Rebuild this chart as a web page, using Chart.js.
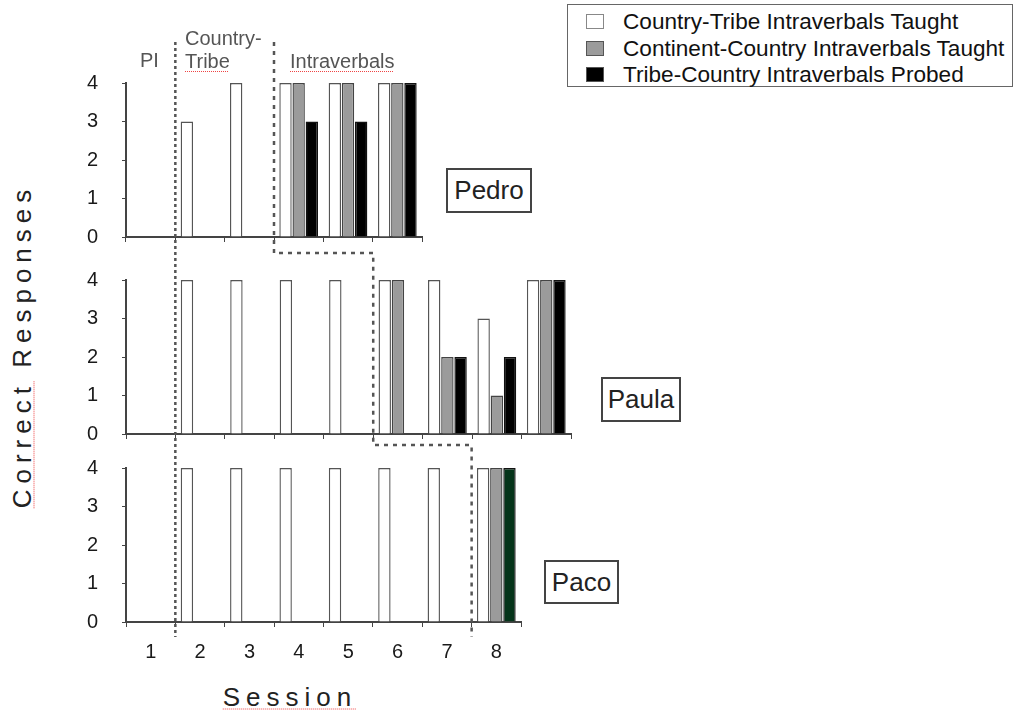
<!DOCTYPE html>
<html>
<head>
<meta charset="utf-8">
<script src="https://cdn.jsdelivr.net/npm/chart.js@4.4.0/dist/chart.umd.min.js"></script>
<style>
  body { margin: 0; background: #fff; width: 1015px; height: 716px; position: relative; overflow: hidden;
         font-family: "Liberation Sans", Arial, Helvetica, sans-serif; }
  canvas.panel { position: absolute; }
  #overlay { position: absolute; left: 0; top: 0; pointer-events: none; z-index: 5; }
  .lbl { position: absolute; white-space: nowrap; line-height: 20px; font-size: 20px; color: #555; }
  .spell { text-decoration: underline dotted #e44; text-decoration-thickness: 1px; text-underline-offset: 3px; }
  .name { position: absolute; border: 2px solid #444; box-sizing: border-box; font-size: 26px; color: #222;
          display: flex; align-items: center; justify-content: center; background: #fff; z-index: 6; }
  #legend { position: absolute; left: 567px; top: 4px; width: 446px; height: 83px; border: 1px solid #666;
            box-sizing: border-box; background: #fff; }
  .legrow { position: absolute; left: 0; height: 26px; font-size: 22.6px; color: #111; white-space: nowrap; }
  .legrow span.sw { position: absolute; left: 18px; top: 5px; width: 18px; height: 15px; box-sizing: border-box; border: 1px solid #666; }
  .legrow span.tx { position: absolute; left: 55px; top: 0; line-height: 26px; }
  #ytitle { position: absolute; left: 22px; top: 346px; transform: translate(-50%, -50%) rotate(-90deg);
            font-size: 26px; letter-spacing: 6px; color: #222; white-space: nowrap; }
  #xtitle { position: absolute; left: 290px; top: 697px; transform: translate(-50%, -50%);
            font-size: 26px; letter-spacing: 6px; color: #222; white-space: nowrap; }
</style>
</head>
<body>
<canvas id="pedro" class="panel"></canvas>
<canvas id="paula" class="panel"></canvas>
<canvas id="paco" class="panel"></canvas>
<canvas id="overlay" width="1015" height="716"></canvas>

<div class="lbl" style="left:140px; top:50px;">PI</div>
<div class="lbl" style="left:185px; top:28px;">Country-</div>
<div class="lbl" style="left:185px; top:51px;"><span class="spell">Tribe</span></div>
<div class="lbl" style="left:290px; top:51px;"><span class="spell">Intraverbals</span></div>

<div class="name" style="left:446px; top:168px; width:86px; height:45px;">Pedro</div>
<div class="name" style="left:601px; top:377px; width:80px; height:45px;">Paula</div>
<div class="name" style="left:544px; top:560px; width:75px; height:44px;">Paco</div>

<div id="legend"></div>
<div id="ytitle"><span class="spell">Correct</span> Responses</div>
<div id="xtitle"><span class="spell">Session</span></div>

<script>
// sessions
const sessions = ['1', '2', '3', '4', '5', '6', '7', '8', '9'];
const seriesNames = [
    'Country-Tribe Intraverbals Taught',
    'Continent-Country Intraverbals Taught',
    'Tribe-Country Intraverbals Probed'
];
const yTicks = [0, 1, 2, 3, 4];

// Pedro (sessions 1-6)
const pedroCT = [null, 3, 4, 4, 4, 4];
const pedroCC = [null, null, null, 4, 4, 4];
const pedroTC = [null, null, null, 3, 3, 4];

// Paula (sessions 1-9)
const paulaCT = [null, 4, 4, 4, 4, 4, 4, 3, 4];
const paulaCC = [null, null, null, null, null, 4, 2, 1, 4];
const paulaTC = [null, null, null, null, null, null, 2, 2, 4];

// Paco (sessions 1-8)
const pacoCT = [null, 4, 4, 4, 4, 4, 4, 4];
const pacoCC = [null, null, null, null, null, null, null, 4];
const pacoTC = [null, null, null, null, null, null, null, 4];

// last session before intraverbal phase, per panel
const phaseEnd = [3, 5, 7];

const fills = ['#ffffff', '#9b9b9b', '#000000'];
const borders = ['#555555', '#444444', '#111111'];
const pacoProbeFill = '#05341a';

const CAT_W = 49.4;
const AREA_H = 153.5;
const MARGIN = 36;   // y tick label half height + tick padding
const AXIS = '#444';

function makePanel(id, areaTop, n, values, showX, thirdColors) {
    const xH = showX ? 44 : 6;
    const bottom = showX ? xH : MARGIN;
    const canvas = document.getElementById(id);
    const w = Math.round(60 + n * CAT_W + 6);
    const h = Math.round(MARGIN + AREA_H + bottom);
    canvas.width = w;
    canvas.height = h;
    canvas.style.width = w + 'px';
    canvas.style.height = h + 'px';
    canvas.style.left = '66px';
    canvas.style.top = (areaTop - MARGIN) + 'px';

    const datasets = values.map((vals, i) => ({
        label: seriesNames[i],
        data: vals,
        backgroundColor: (i === 2 && thirdColors) ? thirdColors : fills[i],
        borderColor: borders[i],
        borderWidth: 1.4,
        categoryPercentage: 0.8,
        barPercentage: 0.94
    }));

    return new Chart(canvas.getContext('2d'), {
        type: 'bar',
        data: { labels: sessions.slice(0, n), datasets: datasets },
        options: {
            responsive: false,
            maintainAspectRatio: false,
            animation: false,
            layout: { padding: { top: MARGIN, right: 6, left: 0, bottom: bottom - xH } },
            plugins: { legend: { display: false }, tooltip: { enabled: false } },
            scales: {
                x: {
                    afterFit: s => { s.height = xH; },
                    grid: { drawOnChartArea: false, drawTicks: true, tickLength: 5, color: AXIS, offset: true },
                    border: { color: AXIS, width: 2 },
                    ticks: {
                        display: showX,
                        color: '#1a1a1a',
                        font: { family: 'Liberation Sans', size: 20 },
                        padding: 13
                    }
                },
                y: {
                    min: 0,
                    max: 4,
                    afterFit: s => { s.width = 60; },
                    afterBuildTicks: s => { s.ticks = yTicks.map(v => ({ value: v })); },
                    grid: { drawOnChartArea: false, drawTicks: true, tickLength: 4, color: AXIS },
                    border: { color: AXIS, width: 2 },
                    ticks: {
                        color: '#1a1a1a',
                        font: { family: 'Liberation Sans', size: 20 },
                        padding: 24
                    }
                }
            }
        }
    });
}

const pacoThird = pacoTC.map(() => pacoProbeFill);

const charts = [
    makePanel('pedro', 83, pedroCT.length, [pedroCT, pedroCC, pedroTC], false),
    makePanel('paula', 280, paulaCT.length, [paulaCT, paulaCC, paulaTC], false),
    makePanel('paco', 468, pacoCT.length, [pacoCT, pacoCC, pacoTC], true, pacoThird)
];

// legend
const legend = document.getElementById('legend');
seriesNames.forEach((name, i) => {
    const row = document.createElement('div');
    row.className = 'legrow';
    row.style.top = (4 + i * 26.5) + 'px';
    const sw = document.createElement('span');
    sw.className = 'sw';
    sw.style.background = fills[i];
    sw.style.borderColor = i === 0 ? '#888' : '#555';
    const tx = document.createElement('span');
    tx.className = 'tx';
    tx.textContent = name;
    row.appendChild(sw);
    row.appendChild(tx);
    legend.appendChild(row);
});

// phase change lines
function boundary(chart, after) {
    const x = chart.scales.x;
    const off = parseFloat(chart.canvas.style.left);
    return off + (x.getPixelForValue(after - 1) + x.getPixelForValue(after)) / 2;
}
function axisY(chart) {
    return parseFloat(chart.canvas.style.top) + chart.chartArea.bottom;
}

const ctx = document.getElementById('overlay').getContext('2d');
ctx.strokeStyle = '#555';
ctx.lineWidth = 2.5;
ctx.setLineDash([3, 3]);

const topY = 42;
const endY = axisY(charts[2]) + 15;

// baseline -> country-tribe
const xa = boundary(charts[0], 1);
ctx.beginPath();
ctx.moveTo(xa, topY);
ctx.lineTo(xa, endY);
ctx.stroke();

// country-tribe -> intraverbals (staggered)
const xb = charts.map((c, i) => boundary(c, phaseEnd[i]));
const yStep = [axisY(charts[0]) + 16, axisY(charts[1]) + 11];
ctx.setLineDash([4, 5]);
ctx.beginPath();
ctx.moveTo(xb[0], topY);
ctx.lineTo(xb[0], yStep[0]);
ctx.lineTo(xb[1], yStep[0]);
ctx.lineTo(xb[1], yStep[1]);
ctx.lineTo(xb[2], yStep[1]);
ctx.lineTo(xb[2], endY);
ctx.stroke();
</script>
</body>
</html>
